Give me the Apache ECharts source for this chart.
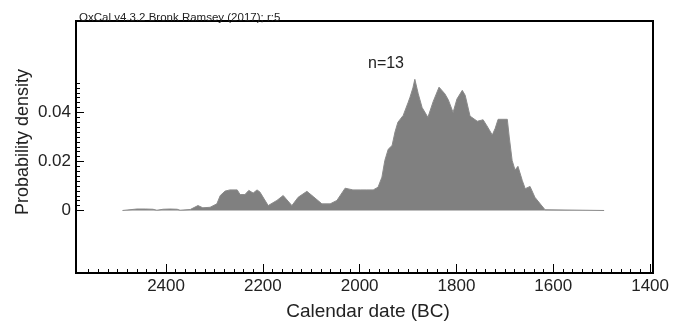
<!DOCTYPE html>
<html>
<head>
<meta charset="utf-8">
<script src="https://cdn.jsdelivr.net/npm/echarts@6/dist/echarts.min.js"></script>
<style>html,body{margin:0;padding:0;background:#fff;}#chart{width:681px;height:333px;}</style>
</head>
<body>
<div id="chart"></div>
<script>
// Calendar years (BC) and summed probability density
const years = [2490, 2460, 2443, 2427, 2419, 2406, 2392, 2377, 2371, 2350, 2334, 2324, 2309, 2295, 2288, 2278, 2268, 2253, 2247, 2237, 2229, 2220, 2212, 2206, 2189, 2171, 2158, 2140, 2127, 2109, 2096, 2078, 2061, 2047, 2030, 2014, 1999, 1985, 1972, 1962, 1954, 1948, 1941, 1933, 1927, 1921, 1910, 1900, 1896, 1890, 1886, 1879, 1871, 1859, 1848, 1836, 1824, 1817, 1807, 1799, 1788, 1782, 1772, 1757, 1745, 1737, 1726, 1720, 1714, 1695, 1691, 1685, 1679, 1673, 1664, 1658, 1648, 1638, 1627, 1617, 1613, 1495];
const density = [0, 0.0006, 0.0006, 0.0005, 0.0001, 0.0005, 0.0006, 0.0005, 0.0001, 0.0004, 0.0020, 0.0011, 0.0013, 0.0027, 0.0061, 0.0079, 0.0084, 0.0084, 0.0065, 0.0065, 0.0082, 0.0071, 0.0084, 0.0075, 0.0020, 0.0041, 0.0061, 0.0020, 0.0054, 0.0078, 0.0057, 0.0027, 0.0027, 0.0041, 0.0091, 0.0084, 0.0084, 0.0084, 0.0084, 0.0095, 0.0136, 0.0204, 0.0250, 0.0265, 0.0320, 0.0360, 0.0388, 0.0440, 0.0462, 0.0500, 0.0535, 0.0476, 0.0420, 0.0380, 0.0445, 0.0503, 0.0476, 0.0452, 0.0400, 0.0455, 0.0490, 0.0470, 0.0385, 0.0364, 0.0370, 0.0345, 0.0308, 0.0335, 0.0372, 0.0372, 0.0300, 0.0204, 0.0165, 0.0180, 0.0122, 0.0089, 0.0098, 0.0054, 0.0027, 0.0003, 0, 0];

// Tick values
const xMajorTicks = [2400, 2200, 2000, 1800, 1600, 1400];
const xMinorTicks = [];
for (let v = 2560; v >= 1400; v -= 20) xMinorTicks.push(v);
const yMajorTicks = [0, 0.02, 0.04];
const yMinorTicks = [];
for (let i = 0; i <= 26; i++) yMinorTicks.push(+(i * 0.002).toFixed(3));

const headerText = 'OxCal v4.3.2 Bronk Ramsey (2017); r:5';
const countLabel = 'n=13';

const FONT = '"Liberation Sans", Arial, Helvetica, sans-serif';
const chart = echarts.init(document.getElementById('chart'), null, {renderer: 'canvas'});

const seriesData = years.map((y, i) => [y, density[i]]);

chart.setOption({
  animation: false,
  backgroundColor: '#fff',
  title: {
    text: headerText,
    left: 74,
    top: 7,
    textStyle: {fontFamily: FONT, fontSize: 11.5, fontWeight: 'normal', color: '#222'}
  },
  grid: {
    left: 76, right: 28, top: 21, bottom: 60,
    show: true, borderColor: '#000', borderWidth: 2, backgroundColor: 'transparent'
  },
  xAxis: [
    {
      type: 'value', inverse: true, min: 1394, max: 2586, position: 'bottom',
      axisLine: {show: false, onZero: false},
      splitLine: {show: false},
      axisTick: {show: true, inside: true, length: 9, customValues: xMajorTicks, lineStyle: {color: '#000', width: 1}},
      axisLabel: {customValues: xMajorTicks, margin: 5, fontFamily: FONT, fontSize: 17, color: '#222',
        formatter: v => String(v)},
      name: 'Calendar date (BC)', nameLocation: 'middle', nameGap: 29, nameMoveOverlap: false,
      nameTextStyle: {fontFamily: FONT, fontSize: 19, color: '#222', padding: [0, 0, 0, 7]}
    },
    {
      type: 'value', inverse: true, min: 1394, max: 2586, position: 'bottom',
      axisLine: {show: false, onZero: false}, splitLine: {show: false},
      axisTick: {show: true, inside: true, length: 4, customValues: xMinorTicks, lineStyle: {color: '#000', width: 1}},
      axisLabel: {show: false}
    }
  ],
  yAxis: [
    {
      type: 'value', min: -0.0255, max: 0.0773, position: 'left',
      axisLine: {show: false, onZero: false}, splitLine: {show: false},
      axisTick: {show: true, inside: true, length: 8, customValues: yMajorTicks, lineStyle: {color: '#000', width: 1}},
      axisLabel: {
        customValues: yMajorTicks, margin: 5, fontFamily: FONT, fontSize: 17, color: '#222',
        formatter: v => (v === 0 ? '0' : v.toFixed(2))
      },
      name: 'Probability density', nameLocation: 'middle', nameGap: 44, nameRotate: 90, nameMoveOverlap: false,
      nameTextStyle: {fontFamily: FONT, fontSize: 18, color: '#222', padding: [0, 0, 0, 10]}
    },
    {
      type: 'value', min: -0.0255, max: 0.0773, position: 'left',
      axisLine: {show: false, onZero: false}, splitLine: {show: false},
      axisTick: {show: true, inside: true, length: 4, customValues: yMinorTicks, lineStyle: {color: '#000', width: 1}},
      axisLabel: {show: false}
    }
  ],
  graphic: [
    {
      type: 'text', x: 386, y: 64,
      style: {text: countLabel, fontFamily: FONT, fontSize: 16, fill: '#222', textAlign: 'center', textVerticalAlign: 'middle'}
    }
  ],
  series: [
    {
      type: 'line', xAxisIndex: 0, yAxisIndex: 0,
      data: seriesData, showSymbol: false, symbol: 'none',
      lineStyle: {color: '#8a8a8a', width: 1},
      areaStyle: {color: '#808080', opacity: 1}
    }
  ]
});
</script>
</body>
</html>
